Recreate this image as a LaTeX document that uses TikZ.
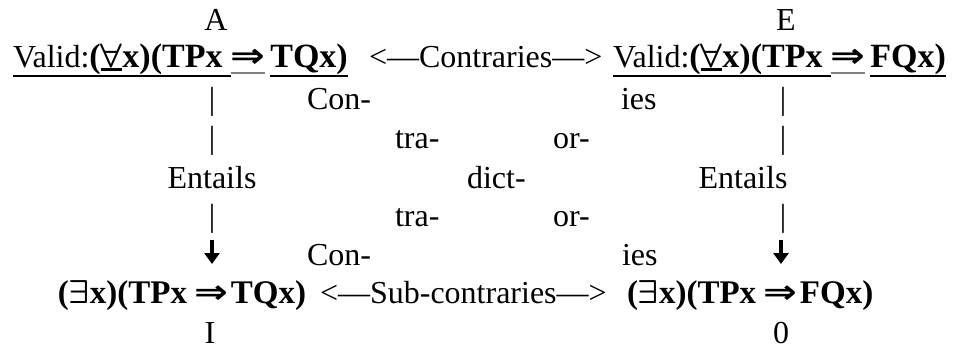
\RequirePackage{fix-cm}
\documentclass[tikz,border=0pt]{standalone}
\usepackage{fontspec}
\setmainfont{Liberation Serif}
\newfontfamily\arrfont{DejaVu Sans}
\usepackage{xcolor}
\usepackage{graphicx}
\usetikzlibrary{arrows.meta}
\newlength\ulw
\newlength\ulwb
\newcommand{\myul}[1]{\settowidth{\ulw}{#1}\rlap{\rule[-9.5pt]{\ulw}{1.6pt}}{#1}}
\newcommand{\grayul}[1]{\settowidth{\ulw}{#1}\rlap{\textcolor{gray}{\rule[-6.5pt]{\ulw}{1.6pt}}}{#1}}
\newcommand{\fabar}{\settowidth{\ulwb}{$\forall$}\rlap{\rule[-4pt]{\ulwb}{3.4pt}}$\forall$}
\newcommand{\topb}{\fontsize{34}{40}\selectfont\bfseries}
\newcommand{\botb}{\fontsize{33}{40}\selectfont\bfseries}
\newcommand{\myimp}{\scalebox{1.22}[1]{\arrfont\bfseries ⇒}}
\begin{document}
\begin{tikzpicture}[x=1pt,y=-1pt,
  txt/.style={font=\fontsize{32}{38}\selectfont\boldmath, inner sep=0pt, outer sep=0pt, anchor=base},
  lft/.style={txt, anchor=base west},
  rgt/.style={txt, anchor=base east},
  arrbox/.style={inner sep=0pt, outer sep=0pt, minimum width=17pt, minimum height=24pt},
  downarr/.style={line width=3.2pt, -{Triangle[width=15pt,length=11pt]}}]
\fill[white] (0,0) rectangle (960,348);
\useasboundingbox (0,0) rectangle (960,348);
% row 1
\node[txt] (labA) at (216,30) {A};
\node[txt] (labE) at (786,30) {E};
% row 2
\node[lft] (fA) at (13,67) {\myul{Valid:{\topb(\fabar x)(TPx}\hspace{8pt}}\grayul{\topb\myimp}\hspace{5pt}\myul{\topb TQx)}};
\node[lft] (contr) at (369,67) {<—Contraries—>};
\node[lft] (fE) at (613,67) {\myul{Valid:{\topb(\fabar x)(TPx}\hspace{8pt}}\grayul{\topb\myimp}\hspace{5pt}\myul{\topb FQx)}};
% row 3
\node[txt] (barA1) at (212,109) {|};
\node[lft] (con1) at (307,109) {Con-};
\node[lft] (ies1) at (621,109) {ies};
\node[txt] (barE1) at (783,109) {|};
% row 4
\node[txt] (barA2) at (212,148) {|};
\node[lft] (tra1) at (395,148) {tra-};
\node[lft] (or1) at (553,148) {or-};
\node[txt] (barE2) at (783,148) {|};
% row 5
\node[txt] (entA) at (212,188) {Entails};
\node[lft] (dict) at (467,188) {dict-};
\node[txt] (entE) at (743,188) {Entails};
% row 6
\node[txt] (barA3) at (212,226) {|};
\node[lft] (tra2) at (395,226) {tra-};
\node[lft] (or2) at (553,226) {or-};
\node[txt] (barE3) at (783,226) {|};
% row 7
\node[arrbox] (arrA) at (212,252) {};
\node[lft] (con2) at (307,265) {Con-};
\node[lft] (ies2) at (622,265) {ies};
\node[arrbox] (arrE) at (781,252) {};
\draw[downarr] (arrA.north) -- (arrA.south);
\draw[downarr] (arrE.north) -- (arrE.south);
% row 8
\node[rgt, font=\botb\boldmath] (fI) at (306,303) {($\exists$x)(TPx\hspace{7pt}\myimp\hspace{3pt}TQx)};
\node[lft] (subc) at (320,303) {<—Sub-contraries—>};
\node[lft, font=\botb\boldmath] (fO) at (627,303) {($\exists$x)(TPx\hspace{7pt}\myimp\hspace{3pt}FQx)};
% row 9
\node[txt] (labI) at (210,343) {I};
\node[txt] (labO) at (781,343) {0};
\end{tikzpicture}
\end{document}
